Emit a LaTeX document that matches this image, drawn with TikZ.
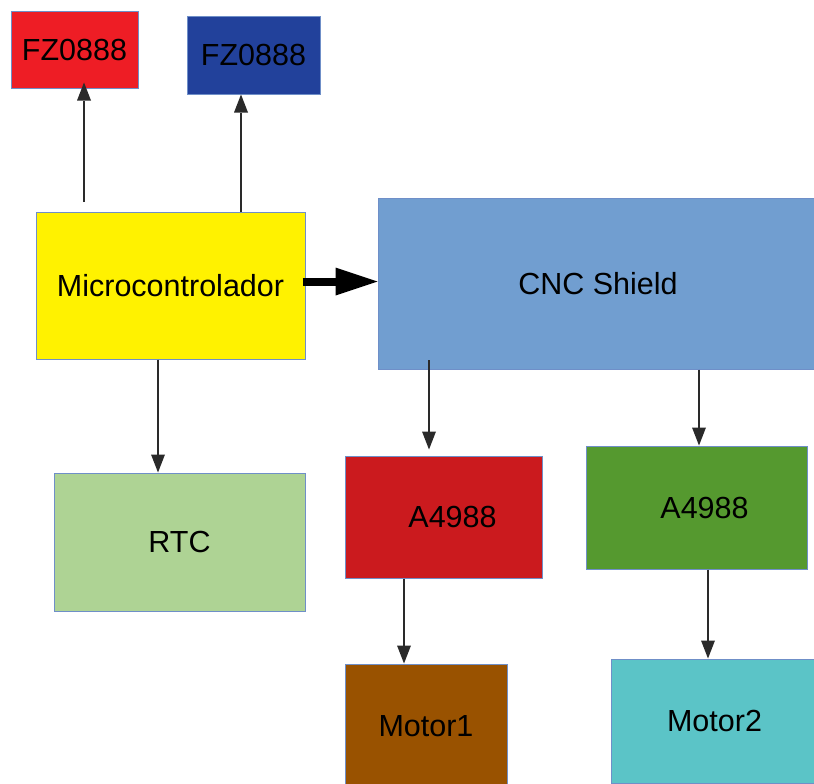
\documentclass[tikz,border=0pt]{standalone}
\usepackage{fontspec}
\setmainfont{Liberation Sans}
\usetikzlibrary{arrows.meta,calc}
\definecolor{boxline}{HTML}{6F8FC8}
\definecolor{cFZa}{HTML}{EE1D25}
\definecolor{cFZb}{HTML}{22419B}
\definecolor{cMC}{HTML}{FFF200}
\definecolor{cCNC}{HTML}{719ED0}
\definecolor{cRTC}{HTML}{AED394}
\definecolor{cAa}{HTML}{CB1A1E}
\definecolor{cAb}{HTML}{55992F}
\definecolor{cMa}{HTML}{995200}
\definecolor{cMb}{HTML}{5BC4C7}
\definecolor{arrowc}{HTML}{2A2A2A}
\tikzset{
  box/.style={draw=boxline, line width=1pt, rectangle, inner sep=0pt, text=black,
    font=\fontsize{30.5}{36}\selectfont},
  lbl/.style={text=black, font=\fontsize{30.5}{36}\selectfont, inner sep=0pt},
  conn/.style={draw=arrowc, line width=1.5pt, -{Triangle[length=18pt,width=14pt,line width=0pt]}},
  thick conn/.style={draw=black, line width=8pt, -{Triangle[length=42pt,width=28pt,line width=0pt]}}
}
\begin{document}
\begin{tikzpicture}[x=1pt,y=-1pt]
\useasboundingbox (0,0) rectangle (814,784);
\node[box, fill=cFZa, minimum width=127pt, minimum height=76pt] (fza) at (74.5,50) {FZ0888};
\node[box, fill=cFZb, minimum width=133pt, minimum height=77pt] (fzb) at (253.5,55.5) {FZ0888};
\node[box, fill=cMC, minimum width=269pt, minimum height=147pt] (mc) at (170.5,285.5) {Microcontrolador};
\node[box, fill=cCNC, minimum width=440pt, minimum height=171pt] (cnc) at (598,283.5) {CNC Shield};
\node[box, fill=cRTC, minimum width=251pt, minimum height=138pt] (rtc) at (179.5,542) {RTC};
\node[box, fill=cAa, minimum width=197pt, minimum height=122pt,
  label={[lbl,xshift=9pt]center:A4988}] (aa) at (443.5,517) {};
\node[box, fill=cAb, minimum width=221pt, minimum height=123pt,
  label={[lbl,xshift=8pt]center:A4988}] (ab) at (696.5,507.5) {};
\node[box, fill=cMa, minimum width=162pt, minimum height=124pt] (ma) at (426,726) {Motor1};
\node[box, fill=cMb, minimum width=207pt, minimum height=124pt] (mb) at (714.5,721) {Motor2};
% connectors
\coordinate (s1) at (84,202);
\draw[conn] (s1) -- ($(s1 |- fza.south)+(0,-6)$);
\draw[conn] (mc.north -| 241,0) -- (fzb.south -| 241,0);
\draw[thick conn] ($(mc.east)+(-3,-4)$) -- (cnc.west |- 0,281.5);
\draw[conn] (mc.south -| 158,0) -- (rtc.north -| 158,0);
\coordinate (s2) at (429,360);
\draw[conn] (s2) -- ($(aa.north -| s2)+(0,-6)$);
\draw[conn] (cnc.south -| 699,0) -- (ab.north -| 699,0);
\draw[conn] (aa.south -| 404,0) -- (ma.north -| 404,0);
\draw[conn] (ab.south -| 708,0) -- (mb.north -| 708,0);
\end{tikzpicture}
\end{document}
